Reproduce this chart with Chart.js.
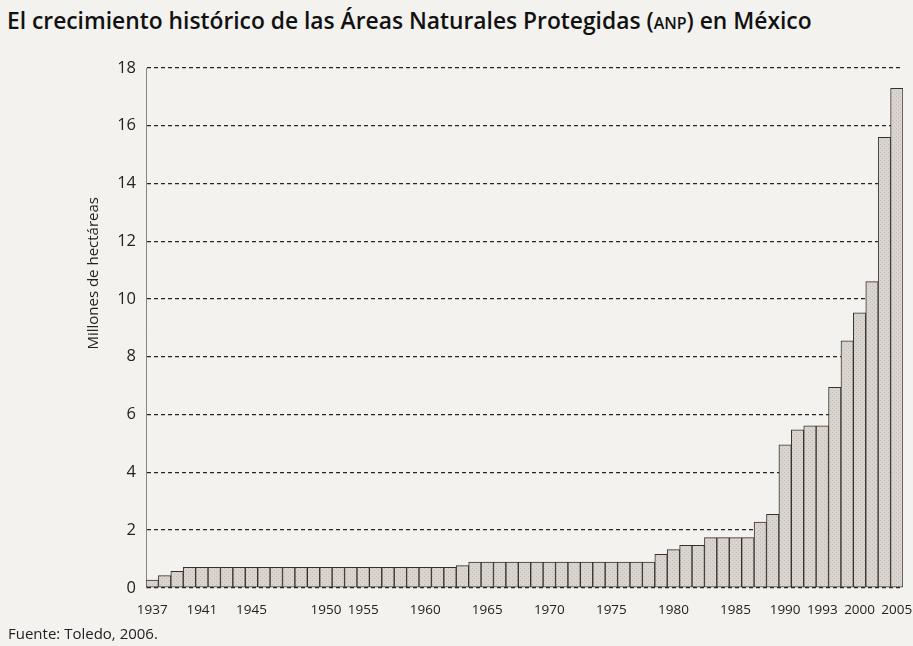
<!DOCTYPE html>
<html>
<head>
<meta charset="utf-8">
<script src="https://cdn.jsdelivr.net/npm/chart.js@4.4.0/dist/chart.umd.min.js"></script>
<style>
  html, body { margin: 0; padding: 0; background: #f3f2ef; }
  #wrap { position: relative; width: 913px; height: 646px; overflow: hidden; }
  h1 { position: absolute; left: 7px; top: 5px; margin: 0; font: 600 22.8px 'Open Sans', sans-serif; color: #111; white-space: nowrap; }
  h1 .sc { font-size: 16px; }
  #box { position: absolute; left: 0; top: 0; width: 913px; height: 646px; }
  #src { position: absolute; left: 8px; top: 623px; font: 15px 'Open Sans', sans-serif; color: #222; }
</style>
</head>
<body>
<div id="wrap">
  <h1>El crecimiento histórico de las Áreas Naturales Protegidas (<span class="sc">ANP</span>) en México</h1>
  <div id="box"><canvas id="anpChart"></canvas></div>
  <div id="src">Fuente: Toledo, 2006.</div>
</div>
<script>
(function() {
  /* Tick labels under the bars (blank = no label) */
  var tickLabels = [
    '1937', '', '', '', '1941', '', '', '', '1945', '',
    '', '', '', '', '1950', '', '', '1955', '', '',
    '', '', '1960', '', '', '', '', '1965', '', '',
    '', '', '1970', '', '', '', '', '1975', '', '',
    '', '', '1980', '', '', '', '', '1985', '', '',
    '', '1990', '', '', '1993', '', '', '2000', '', '',
    '2005'
  ];

  /* Protected area, millions of hectares */
  var areaValues = [
    0.27, 0.42, 0.57, 0.71, 0.71, 0.71, 0.71, 0.71, 0.71, 0.71,
    0.71, 0.71, 0.71, 0.71, 0.71, 0.71, 0.71, 0.71, 0.71, 0.71,
    0.71, 0.71, 0.71, 0.71, 0.71, 0.77, 0.89, 0.89, 0.89, 0.89,
    0.89, 0.89, 0.89, 0.89, 0.89, 0.89, 0.89, 0.89, 0.89, 0.89,
    0.89, 1.16, 1.32, 1.47, 1.47, 1.74, 1.74, 1.74, 1.74, 2.28,
    2.54, 4.95, 5.47, 5.61, 5.61, 6.94, 8.55, 9.52, 10.6, 15.6,
    17.3
  ];

  var yTicks = [0, 2, 4, 6, 8, 10, 12, 14, 16, 18];

  var fontFamily = '"Open Sans", "Noto Sans", sans-serif';
  var textColor = '#222';

  /* light stippled fill like the printed bars */
  function stipple() {
    var p = document.createElement('canvas');
    p.width = 4; p.height = 4;
    var g = p.getContext('2d');
    g.fillStyle = '#d9d4cd';
    g.fillRect(0, 0, 4, 4);
    g.fillStyle = '#c4beb6';
    g.fillRect(0, 0, 1, 1);
    g.fillRect(2, 2, 1, 1);
    return g.createPattern(p, 'repeat');
  }

  /* rotated y title, sits a bit above the middle as in print */
  var yTitlePlugin = {
    id: 'yTitle',
    afterDraw: function(chart) {
      var a = chart.chartArea;
      var c = chart.ctx;
      c.save();
      c.translate(a.left - 52, a.top + (a.bottom - a.top) * 0.395);
      c.rotate(-Math.PI / 2);
      c.font = '15px ' + fontFamily;
      c.fillStyle = textColor;
      c.textAlign = 'center';
      c.textBaseline = 'middle';
      c.fillText('Millones de hectáreas', 0, 0);
      c.restore();
    }
  };

  var ctx = document.getElementById('anpChart');

  new Chart(ctx, {
    type: 'bar',
    data: {
      labels: tickLabels,
      datasets: [{
        data: areaValues,
        backgroundColor: stipple(),
        borderColor: '#35312d',
        borderWidth: 1,
        borderSkipped: false,
        categoryPercentage: 1,
        barPercentage: 1
      }]
    },
    options: {
      responsive: true,
      maintainAspectRatio: false,
      animation: false,
      layout: { padding: { left: 80, top: 68, right: 10, bottom: 22 } },
      plugins: {
        legend: { display: false },
        tooltip: { enabled: false }
      },
      scales: {
        x: {
          grid: { display: false },
          border: { display: false },
          ticks: {
            autoSkip: false,
            maxRotation: 0,
            padding: 6,
            color: textColor,
            font: { family: fontFamily, size: 13.5 }
          },
          afterFit: function(s) { s.paddingLeft = 0; s.paddingRight = 0; }
        },
        y: {
          min: 0,
          max: 18,
          afterBuildTicks: function(s) {
            s.ticks = yTicks.map(function(v) { return { value: v }; });
          },
          ticks: {
            padding: 10,
            color: textColor,
            font: { family: fontFamily, size: 16.5 }
          },
          grid: { color: '#262626', lineWidth: 1.3, drawTicks: false },
          border: { display: true, color: '#8a8683', width: 1, dash: [4, 3] },
          afterFit: function(s) { s.width = 66; }
        }
      }
    },
    plugins: [yTitlePlugin]
  });
})();
</script>
</body>
</html>
